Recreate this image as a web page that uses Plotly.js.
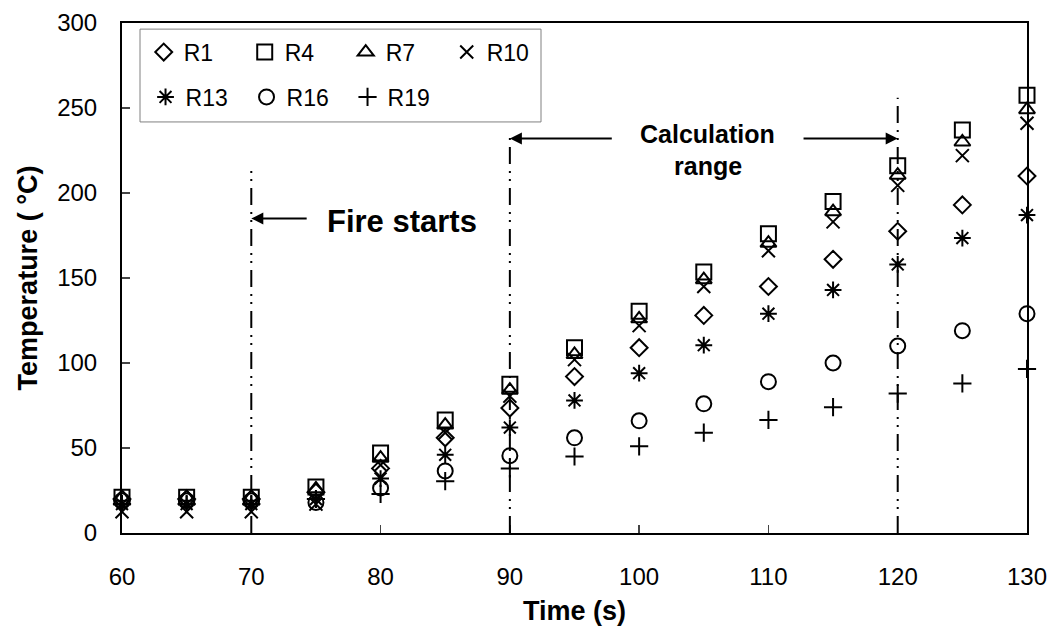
<!DOCTYPE html>
<html><head><meta charset="utf-8">
<script src="https://cdn.plot.ly/plotly-3.0.1.min.js"></script>
<style>html,body{margin:0;padding:0;background:#fff}#chart{width:1053px;height:632px}</style>
</head><body><div id="chart"></div>
<script>
// ---- data ----
const times = [60, 65, 70, 75, 80, 85, 90, 95, 100, 105, 110, 115, 120, 125, 130];
const R1  = [20, 20, 20, 24, 38, 56, 73.5, 92, 109, 128, 145, 161, 177.5, 193, 210];
const R4  = [21, 21, 21, 27, 47, 66.5, 87.5, 109, 130.5, 153.5, 176, 195, 216, 237, 257.5];
const R7  = [21, 21, 21, 26, 44, 63.5, 84, 105, 126, 149, 170.5, 189, 210.5, 230, 249];
const R10 = [12.5, 12.5, 12.5, 17, 40, 59, 80.5, 102, 122, 145, 166, 183, 204.5, 222, 241];
const R13 = [17, 17, 17, 20, 32, 46, 62, 78, 94, 110.5, 129, 143, 158, 173.5, 187];
const R16 = [19, 19, 19, 18, 26.5, 36.5, 45.5, 56, 66, 76, 89, 100, 110, 119, 129];
const R19 = [17, 17, 17, 20, 23, 30.5, 38, 45, 51, 59, 66.5, 74, 82, 88, 96.5];
const seriesNames = ['R1', 'R4', 'R7', 'R10', 'R13', 'R16', 'R19'];
const seriesValues = [R1, R4, R7, R10, R13, R16, R19];

// reference lines and labels
const refLineX = [70, 90, 120];
const refLineTop = [216, 235, 256];
const fireLabel = 'Fire starts';
const calcLabel1 = 'Calculation';
const calcLabel2 = 'range';
const xTickVals = [60, 70, 80, 90, 100, 110, 120, 130];
const yTickVals = [0, 50, 100, 150, 200, 250, 300];

// ---- styles ----
const symbols = ['diamond-open', 'square-open', 'triangle-up-open', 'x-thin-open', 'asterisk-open', 'circle-open', 'cross-thin-open'];
const sizes = [13, 15, 14, 13, 14, 15, 13];
const legendOf = ['legend', 'legend', 'legend', 'legend', 'legend2', 'legend2', 'legend2'];
const FONT = '"Liberation Sans", Arial, Helvetica, sans-serif';

const traces = seriesNames.map((n, i) => ({
  type: 'scatter', mode: 'markers', name: n, x: times, y: seriesValues[i],
  legend: legendOf[i], cliponaxis: false,
  marker: { symbol: symbols[i], size: sizes[i], color: '#000', line: { color: '#000', width: 2 } }
}));

const dashPat = '17px,7px,2px,6px,2px,7px';
const shapes = refLineX.map((x, i) => ({
  type: 'line', xref: 'x', yref: 'y', x0: x, x1: x, y0: 0, y1: refLineTop[i],
  line: { color: '#000', width: 2, dash: dashPat }
}));
// legend frame
shapes.push({ type: 'rect', xref: 'paper', yref: 'paper', x0: 0.0199, x1: 0.463, y0: 0.806, y1: 0.988,
  line: { color: '#808080', width: 1 }, fillcolor: 'rgba(0,0,0,0)' });

const arrowBase = { xref: 'x', yref: 'y', axref: 'x', ayref: 'y', text: '', showarrow: true,
  arrowhead: 2, arrowsize: 1.2, arrowwidth: 2, arrowcolor: '#000', standoff: 0 };
const annotations = [
  Object.assign({}, arrowBase, { x: refLineX[0], y: 185, ax: 74.4, ay: 185 }),
  Object.assign({}, arrowBase, { x: refLineX[1], y: 232, ax: 98.0, ay: 232 }),
  Object.assign({}, arrowBase, { x: refLineX[2], y: 232, ax: 112.6, ay: 232 }),
  { xref: 'x', yref: 'y', x: 75.7, y: 183, xanchor: 'left', yanchor: 'middle', showarrow: false,
    text: fireLabel, font: { family: FONT, size: 31, color: '#000', weight: 700 } },
  { xref: 'x', yref: 'y', x: 105.3, y: 234.7, xanchor: 'center', yanchor: 'middle', showarrow: false,
    text: calcLabel1, font: { family: FONT, size: 25, color: '#000', weight: 700 } },
  { xref: 'x', yref: 'y', x: 105.3, y: 215.9, xanchor: 'center', yanchor: 'middle', showarrow: false,
    text: calcLabel2, font: { family: FONT, size: 25, color: '#000', weight: 700 } }
];

const legendCommon = { orientation: 'h', xanchor: 'left', yanchor: 'middle', bgcolor: 'rgba(0,0,0,0)',
  borderwidth: 0, entrywidth: 56, font: { family: FONT, size: 23, color: '#000' }, itemclick: false };

const layout = {
  width: 1053, height: 632,
  margin: { l: 122, r: 26, t: 23, b: 99 },
  paper_bgcolor: '#fff', plot_bgcolor: '#fff',
  font: { family: FONT, color: '#000' },
  showlegend: true,
  legend: Object.assign({}, legendCommon, { x: 0.024, y: 0.943 }),
  legend2: Object.assign({}, legendCommon, { x: 0.026, y: 0.855 }),
  xaxis: {
    range: [60, 130], tickvals: xTickVals, ticks: 'inside', ticklen: 8, tickwidth: 1.5, tickcolor: '#444',
    showline: true, linecolor: '#000', linewidth: 2, mirror: true, showgrid: false, zeroline: false,
    tickfont: { family: FONT, size: 24, color: '#000' }, ticklabelstandoff: 21,
    title: { text: 'Time (s)', font: { family: FONT, size: 27, color: '#000', weight: 700 }, standoff: 12 }
  },
  yaxis: {
    range: [0, 300], tickvals: yTickVals, ticks: 'inside', ticklen: 8, tickwidth: 1.5, tickcolor: '#444',
    showline: true, linecolor: '#000', linewidth: 2, mirror: true, showgrid: false, zeroline: false,
    tickfont: { family: FONT, size: 24, color: '#000' }, ticklabelstandoff: 18,
    title: { text: 'Temperature ( °C)', font: { family: FONT, size: 27, color: '#000', weight: 700 }, standoff: 12 }
  },
  shapes: shapes,
  annotations: annotations
};

Plotly.newPlot('chart', traces, layout, { displayModeBar: false, staticPlot: true });
</script>
</body></html>
